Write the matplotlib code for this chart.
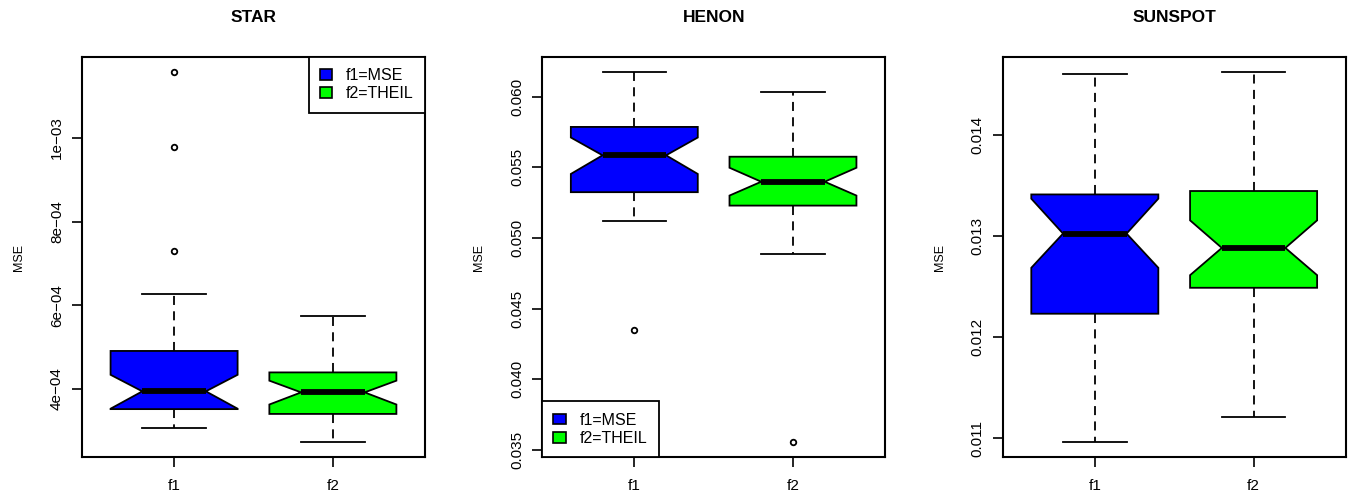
import numpy as np
import matplotlib
matplotlib.use("Agg")
import matplotlib.pyplot as plt
from matplotlib.patches import Patch

plt.rcParams['font.family'] = ['Liberation Sans', 'DejaVu Sans']

groups = ['f1', 'f2']
legend_labels = ['f1=MSE', 'f2=THEIL']
fill_colors = ['#0000FF', '#00FF00']

# box statistics per dataset: [f1, f2]
star_whislo = [3.08e-4, 2.73e-4]
star_q1 = [3.52e-4, 3.405e-4]
star_cilo = [3.53e-4, 3.63e-4]
star_med = [3.945e-4, 3.92e-4]
star_cihi = [4.34e-4, 4.20e-4]
star_q3 = [4.91e-4, 4.397e-4]
star_whishi = [6.26e-4, 5.745e-4]
star_fliers = [[7.31e-4, 9.79e-4, 1.158e-3], []]
star_ticks = [4e-4, 6e-4, 8e-4, 1e-3]
star_ticklabels = ['4e\u221204', '6e\u221204', '8e\u221204', '1e\u221203']

henon_whislo = [0.05118, 0.04885]
henon_q1 = [0.05324, 0.05229]
henon_cilo = [0.05453, 0.05300]
henon_med = [0.05585, 0.05398]
henon_cihi = [0.05711, 0.05497]
henon_q3 = [0.05786, 0.05575]
henon_whishi = [0.06176, 0.06033]
henon_fliers = [[0.04345], [0.03554]]
henon_ticks = [0.035, 0.040, 0.045, 0.050, 0.055, 0.060]
henon_ticklabels = ['0.035', '0.040', '0.045', '0.050', '0.055', '0.060']

sun_whislo = [0.010960, 0.011207]
sun_q1 = [0.012233, 0.012490]
sun_cilo = [0.012688, 0.012615]
sun_med = [0.013027, 0.012885]
sun_cihi = [0.013373, 0.013158]
sun_q3 = [0.013415, 0.013449]
sun_whishi = [0.014607, 0.014630]
sun_fliers = [[], []]
sun_ticks = [0.011, 0.012, 0.013, 0.014]
sun_ticklabels = ['0.011', '0.012', '0.013', '0.014']


def make_stats(whislo, q1, cilo, med, cihi, q3, whishi, fliers):
    stats = []
    for i in range(len(groups)):
        stats.append(dict(whislo=whislo[i], q1=q1[i], cilo=cilo[i], med=med[i],
                          cihi=cihi[i], q3=q3[i], whishi=whishi[i],
                          fliers=np.array(fliers[i]), label=groups[i]))
    return stats


def draw_panel(ax, title, stats, ticks, ticklabels, legend_loc):
    bp = ax.bxp(stats, positions=[1, 2], widths=0.8, shownotches=True,
                patch_artist=True, manage_ticks=False,
                boxprops=dict(linewidth=1.3, edgecolor='black'),
                whiskerprops=dict(linewidth=1.3, linestyle=(0, (5, 3.5))),
                capprops=dict(linewidth=1.3),
                medianprops=dict(linewidth=4.2, color='black', solid_capstyle='butt'),
                flierprops=dict(marker='o', markersize=4, markerfacecolor='none',
                                markeredgecolor='black', markeredgewidth=1.3))
    for patch, c in zip(bp['boxes'], fill_colors):
        patch.set_facecolor(c)

    # R-style 4% padding on the data range
    lo = min(min(s['whislo'] for s in stats),
             min([min(s['fliers']) for s in stats if len(s['fliers'])] or [np.inf]))
    hi = max(max(s['whishi'] for s in stats),
             max([max(s['fliers']) for s in stats if len(s['fliers'])] or [-np.inf]))
    pad = 0.04 * (hi - lo)
    ax.set_ylim(lo - pad, hi + pad)
    ax.set_xlim(0.42, 2.58)

    ax.set_yticks(ticks)
    ax.set_yticklabels(ticklabels, rotation=90, va='center')
    ax.set_xticks([1, 2])
    ax.set_xticklabels(groups)
    ax.tick_params(axis='both', length=7, width=1.2, labelsize=11, direction='out')
    ax.tick_params(axis='y', pad=6)
    ax.tick_params(axis='x', pad=9)
    for sp in ax.spines.values():
        sp.set_linewidth(1.5)

    ax.set_title(title, fontsize=12.5, fontweight='bold', pad=25)
    ax.set_ylabel('MSE', fontsize=9, labelpad=18)

    if legend_loc is not None:
        handles = [Patch(facecolor=c, edgecolor='black', linewidth=1.2) for c in fill_colors]
        leg = ax.legend(handles, legend_labels, loc=legend_loc, borderaxespad=0,
                        fancybox=False, fontsize=11.5, handlelength=0.8,
                        handleheight=0.65, handletextpad=0.85, borderpad=0.7,
                        labelspacing=0.2, framealpha=1)
        leg.get_frame().set_edgecolor('black')
        leg.get_frame().set_linewidth(1.3)


fig = plt.figure(figsize=(13.53, 4.95), dpi=100)
ax1 = fig.add_axes([0.0606, 0.0768, 0.2535, 0.808])
ax2 = fig.add_axes([0.4008, 0.0768, 0.2533, 0.808])
ax3 = fig.add_axes([0.7411, 0.0768, 0.2535, 0.808])

draw_panel(ax1, 'STAR',
           make_stats(star_whislo, star_q1, star_cilo, star_med, star_cihi,
                      star_q3, star_whishi, star_fliers),
           star_ticks, star_ticklabels, 'upper right')
draw_panel(ax2, 'HENON',
           make_stats(henon_whislo, henon_q1, henon_cilo, henon_med, henon_cihi,
                      henon_q3, henon_whishi, henon_fliers),
           henon_ticks, henon_ticklabels, 'lower left')
draw_panel(ax3, 'SUNSPOT',
           make_stats(sun_whislo, sun_q1, sun_cilo, sun_med, sun_cihi,
                      sun_q3, sun_whishi, sun_fliers),
           sun_ticks, sun_ticklabels, None)

fig.savefig('out.png', dpi=100)
